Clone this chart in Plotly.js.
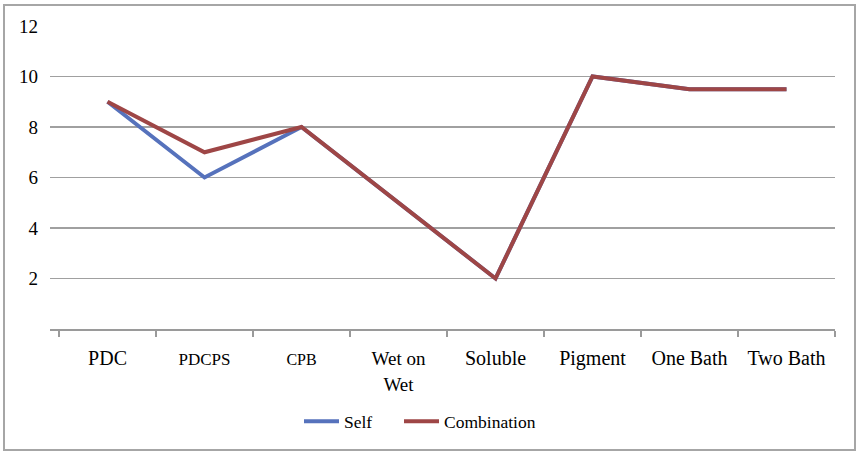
<!DOCTYPE html>
<html>
<head>
<meta charset="utf-8">
<script src="https://cdn.plot.ly/plotly-3.0.1.min.js"></script>
<style>
  html, body { margin: 0; padding: 0; background: #fff; }
  #wrap { position: relative; width: 858px; height: 454px; }
  #chart { width: 858px; height: 454px; }
  #frame { position: absolute; left: 3px; top: 4px; width: 849px; height: 443px;
           border: 2px solid #a6a6a6; pointer-events: none; }
</style>
</head>
<body>
<div id="wrap">
  <div id="chart"></div>
  <div id="frame"></div>
</div>
<script>
// ---- data ----
var categories = ["PDC", "PDCPS", "CPB", "Wet on Wet", "Soluble", "Pigment", "One Bath", "Two Bath"];
var selfValues = [9, 6, 8, 5, 2, 10, 9.5, 9.5];
var combinationValues = [9, 7, 8, 5, 2, 10, 9.5, 9.5];
var yTickValues = [2, 4, 6, 8, 10, 12];
var yTickLabels = ["2", "4", "6", "8", "10", "12"];

// tick label formatting (display only)
var labelFormat = {
  "PDCPS": function (s) { return '<span style="font-size:17px">' + s + '</span>'; },
  "CPB": function (s) { return '<span style="font-size:16px">' + s + '</span>'; },
  "Wet on Wet": function (s) { return '<span style="font-size:19px">Wet on<br>Wet</span>'; }
};
var xTickText = categories.map(function (c) { return labelFormat[c] ? labelFormat[c](c) : c; });

var serif = '"Liberation Serif", "Times New Roman", serif';
var legendFont = { family: serif, size: 17.5, color: '#000' };

var traces = [
  { type: 'scatter', mode: 'lines', name: 'Self', x: categories, y: selfValues,
    line: { color: '#5672BC', width: 4 }, legend: 'legend' },
  { type: 'scatter', mode: 'lines', name: 'Combination', x: categories, y: combinationValues,
    line: { color: '#9E4646', width: 4 }, legend: 'legend2' }
];

var layout = {
  width: 858, height: 454,
  margin: { l: 50, r: 23, t: 26, b: 125 },
  paper_bgcolor: '#ffffff', plot_bgcolor: '#ffffff',
  font: { family: serif, color: '#000', size: 20 },
  showlegend: true,
  legend: { orientation: 'h', x: 0.3172, xanchor: 'left', y: -0.305, yanchor: 'middle',
            itemwidth: 35, font: legendFont, bgcolor: 'rgba(0,0,0,0)' },
  legend2: { orientation: 'h', x: 0.4446, xanchor: 'left', y: -0.305, yanchor: 'middle',
            itemwidth: 35, font: legendFont, bgcolor: 'rgba(0,0,0,0)' },
  xaxis: {
    type: 'category', tickmode: 'array', tickvals: categories, ticktext: xTickText,
    tickson: 'boundaries', ticks: 'outside', ticklen: 6, tickcolor: '#9a9a9a', tickwidth: 1.5,
    showline: true, linecolor: '#9a9a9a', linewidth: 1.5, showgrid: false, zeroline: false,
    range: [-0.593, 7.5], tickangle: 0, ticklabelstandoff: 10,
    tickfont: { family: serif, size: 20, color: '#000' }, fixedrange: true
  },
  yaxis: {
    range: [0, 12], tickmode: 'array', tickvals: yTickValues, ticktext: yTickLabels,
    showgrid: true, gridcolor: '#a0a0a0', gridwidth: 1.4, zeroline: false, showline: false,
    ticks: '', ticklabelstandoff: 11,
    tickfont: { family: serif, size: 19, color: '#000' }, fixedrange: true
  }
};

Plotly.newPlot('chart', traces, layout, { displayModeBar: false, staticPlot: true });
</script>
</body>
</html>
